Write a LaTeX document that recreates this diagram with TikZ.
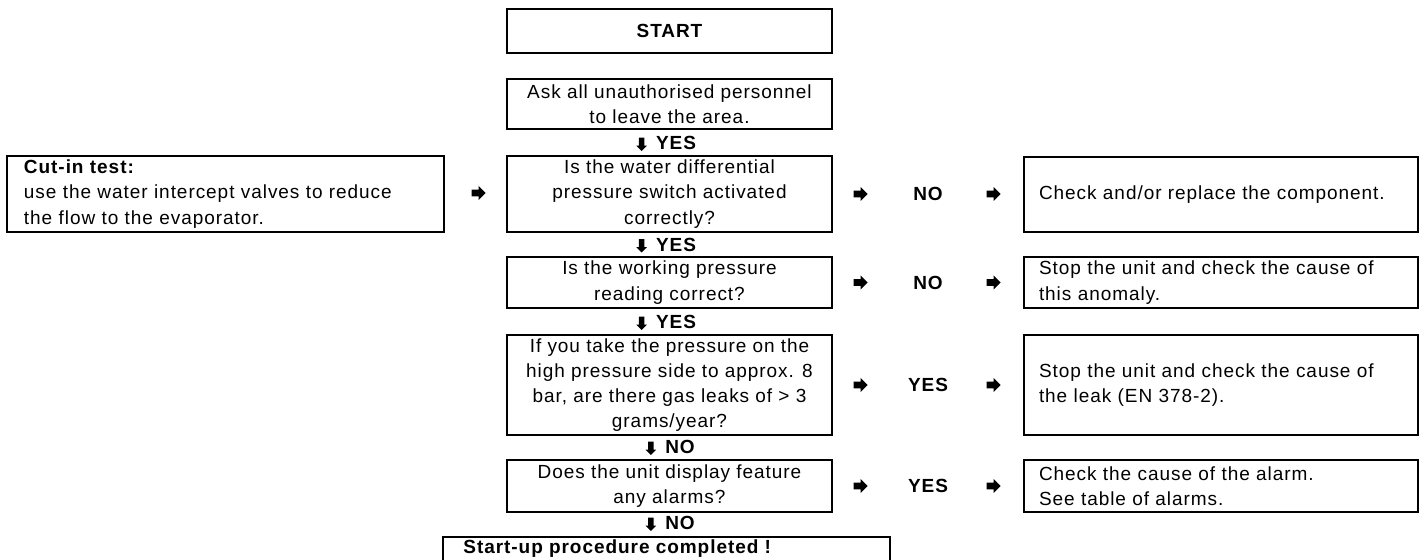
\documentclass[tikz,border=0pt]{standalone}
\usepackage{fontspec}
\setmainfont{Liberation Sans}[LetterSpace=5]
\usetikzlibrary{shapes.arrows}
\begin{document}
\begin{tikzpicture}[x=0.5pt,y=-0.5pt]
\tikzset{
  box/.style={draw, line width=1.3pt, inner sep=0pt, font=\fontsize{9.5}{12.6}\selectfont},
  cbox/.style={box, align=center, minimum width=162.5pt},
  rbox/.style={box, align=left, inner xsep=7.5pt, text width=182pt},
  rarr/.style={single arrow, fill=black, draw=none, inner sep=1.5pt, minimum height=7pt,
               single arrow head extend=1.8pt, single arrow tip angle=90},
  darr/.style={single arrow, fill=black, draw=none, inner sep=1.15pt, minimum height=6.6pt,
               single arrow head extend=1.3pt, single arrow tip angle=90, shape border rotate=270},
  lbl/.style={font=\bfseries\fontsize{9.5}{12}\selectfont, inner sep=0pt},
}
\useasboundingbox (0,0) rectangle (1425,560);
\clip (0,0) rectangle (1425,560);

% central column
\node[cbox, minimum height=22pt] (st) at (669.5,31) {\bfseries START};
\node[cbox, minimum height=25pt] (ask) at (669.5,104) {Ask all unauthorised personnel\\to leave the area.};
\node[cbox, minimum height=38pt] (water) at (669.5,194) {Is the water differential\\pressure switch activated\\correctly?};
\node[cbox, minimum height=25.5pt] (work) at (669.5,282.5) {Is the working pressure\\reading correct?};
\node[cbox, minimum height=50pt] (leak) at (669.5,385) {If you take the pressure on the\\high pressure side to approx. 8\\bar, are there gas leaks of > 3\\grams/year?};
\node[cbox, minimum height=26pt] (disp) at (669.5,486) {Does the unit display feature\\any alarms?};
\node[box, minimum width=223.5pt, minimum height=26.5pt] (su) at (666.5,563.5) {};
\node[lbl, anchor=base west] (sutext) at (463,554) {Start-up procedure completed !};

% vertical labels
\node[lbl] (y1) at (676,143) {YES};
\node[lbl] (y2) at (676,244.5) {YES};
\node[lbl] (y3) at (676,322) {YES};
\node[lbl] (n1) at (680,447) {NO};
\node[lbl] (n2) at (680,523) {NO};
\foreach \l in {y1,y2,y3,n1,n2}{
  \node[darr] (d\l) at ([xshift=-7pt]\l.west) {};
}

% left box
\node[box, align=left, inner xsep=8.5pt, text width=201.5pt, minimum height=38pt] (cut) at (225.5,194)
  {\textbf{Cut-in test:}\\use the water intercept valves to reduce\\the flow to the evaporator.};
\node[rarr] (ac) at (477,193) {};

% right boxes
\node[rbox, minimum height=37.5pt] (r1) at (1221,194.5) {Check and/or replace the component.};
\node[rbox, minimum height=25.5pt] (r2) at (1221,282.5) {Stop the unit and check the cause of\\this anomaly.};
\node[rbox, minimum height=50pt] (r3) at (1221,385) {Stop the unit and check the cause of\\the leak (EN 378-2).};
\node[rbox, minimum height=26pt] (r4) at (1221,486) {Check the cause of the alarm.\\See table of alarms.};

% horizontal arrows and answers
\node[rarr] (a1l) at (859,194) {};
\node[lbl] (a1) at (928,194) {NO};
\node[rarr] (a1r) at (992,194) {};
\node[rarr] (a2l) at (859,282.5) {};
\node[lbl] (a2) at (928,282.5) {NO};
\node[rarr] (a2r) at (992,282.5) {};
\node[rarr] (a3l) at (859,385) {};
\node[lbl] (a3) at (928,385) {YES};
\node[rarr] (a3r) at (992,385) {};
\node[rarr] (a4l) at (859,486) {};
\node[lbl] (a4) at (928,486) {YES};
\node[rarr] (a4r) at (992,486) {};
\end{tikzpicture}
\end{document}
